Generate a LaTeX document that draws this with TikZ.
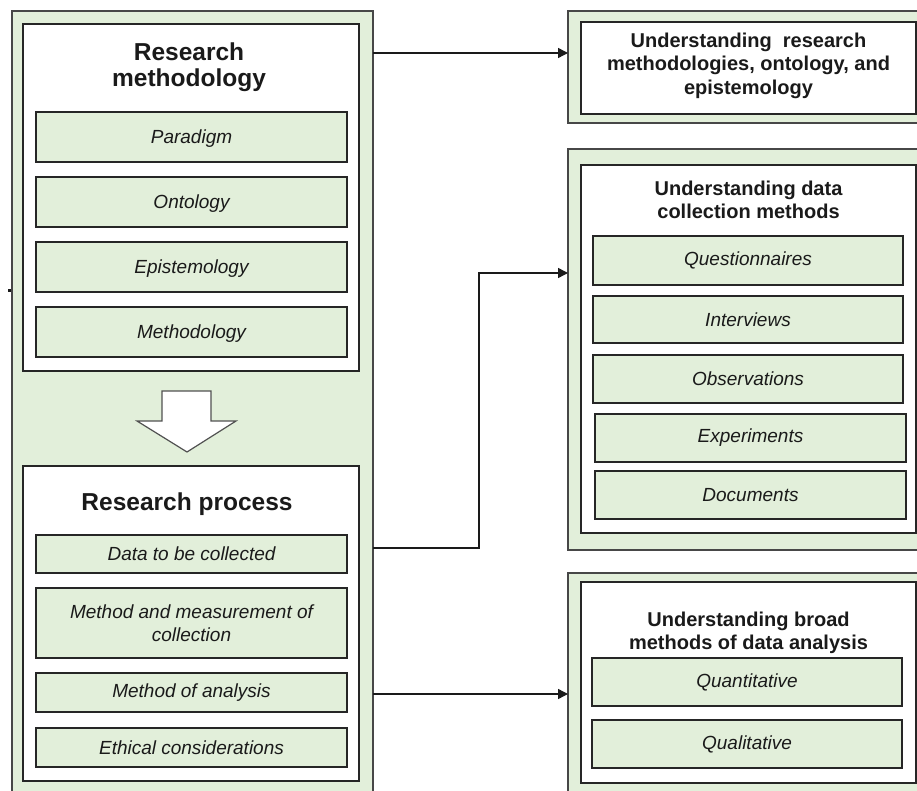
\documentclass[tikz,border=0pt]{standalone}
\usepackage{fontspec}
\setmainfont{Liberation Sans}
\usetikzlibrary{arrows.meta}
\definecolor{paleg}{HTML}{E2EFDA}
\definecolor{edge}{HTML}{262626}
\definecolor{ink}{HTML}{1A1A1A}

\tikzset{
  greenbox/.style={draw=edge!85, line width=1.7pt, fill=paleg, inner sep=0pt, outer sep=0pt, anchor=north west},
  whitebox/.style={draw=edge, line width=1.7pt, fill=white, inner sep=0pt, outer sep=0pt, anchor=north west},
  item/.style={draw=edge, line width=1.5pt, fill=paleg, inner sep=0pt, outer sep=0pt, anchor=north west,
    align=center, text=ink, font=\fontsize{19}{23}\selectfont\itshape},
  lowtext/.style={text depth=0pt},
  bigtitle/.style={align=center, text=ink, inner sep=0pt, font=\fontsize{24.5}{26}\selectfont\bfseries},
  sidetitle/.style={align=center, text=ink, inner sep=0pt, font=\fontsize{20}{23.5}\selectfont\bfseries},
  conn/.style={draw=ink, line width=1.4pt, -{Triangle[length=10pt,width=10pt]}},
}

\begin{document}
\begin{tikzpicture}[x=1pt, y=-1pt]
\useasboundingbox (0,0) rectangle (917,791);
\clip (0,0) rectangle (917,791);

% left column
\node[greenbox, minimum width=361pt, minimum height=800pt] (left) at (12,11) {};
\fill[ink] (8,289) rectangle (11,292);
\node[whitebox, minimum width=336pt, minimum height=347pt] (wm) at (23,24) {};
\node[bigtitle] (tm) at (189,67) {Research\\methodology};
\node[item, lowtext, minimum width=311pt, minimum height=50pt] (p1) at (36,112) {Paradigm};
\node[item, lowtext, minimum width=311pt, minimum height=50pt] (p2) at (36,177) {Ontology};
\node[item, lowtext, minimum width=311pt, minimum height=50pt] (p3) at (36,242) {Epistemology};
\node[item, lowtext, minimum width=311pt, minimum height=50pt] (p4) at (36,307) {Methodology};

% block arrow between the two stages
\draw[draw=edge!80, line width=1.2pt, fill=white]
  (162,391) -- (211,391) -- (211,421) -- (236,421) -- (187,452) -- (137,421) -- (162,421) -- cycle;

\node[whitebox, minimum width=336pt, minimum height=315pt] (wp) at (23,466) {};
\node[bigtitle] (tp) at (187,504) {Research process};
\node[item, minimum width=311pt, minimum height=38pt] (q1) at (36,535) {Data to be collected};
\node[item, minimum width=311pt, minimum height=70pt] (q2) at (36,588) {Method and measurement of\\collection};
\node[item, minimum width=311pt, minimum height=39pt] (q3) at (36,673) {Method of analysis};
\node[item, minimum width=311pt, minimum height=39pt] (q4) at (36,728) {Ethical considerations};

% right column, first panel
\node[greenbox, minimum width=362pt, minimum height=112pt] (r1) at (568,11) {};
\node[whitebox, minimum width=335pt, minimum height=92pt] (r1w) at (581,22) {};
\node[sidetitle] (t1) at (748.5,65.5) {Understanding\ \ research\\methodologies, ontology, and\\epistemology};

% right column, second panel
\node[greenbox, minimum width=362pt, minimum height=401pt] (r2) at (568,149) {};
\node[whitebox, minimum width=335pt, minimum height=368pt] (r2w) at (581,165) {};
\node[sidetitle] (t2) at (748.5,200) {Understanding data\\collection methods};
\node[item, minimum width=310pt, minimum height=49pt] (d1) at (593,236) {Questionnaires};
\node[item, minimum width=310pt, minimum height=47pt] (d2) at (593,296) {Interviews};
\node[item, minimum width=310pt, minimum height=48pt] (d3) at (593,355) {Observations};
\node[item, minimum width=311pt, minimum height=48pt] (d4) at (595,414) {Experiments};
\node[item, minimum width=311pt, minimum height=48pt] (d5) at (595,471) {Documents};

% right column, third panel
\node[greenbox, minimum width=362pt, minimum height=240pt] (r3) at (568,573) {};
\node[whitebox, minimum width=335pt, minimum height=201pt] (r3w) at (581,582) {};
\node[sidetitle] (t3) at (748.5,633) {Understanding broad\\methods of data analysis};
\node[item, minimum width=310pt, minimum height=48pt] (a1) at (592,658) {Quantitative};
\node[item, minimum width=310pt, minimum height=48pt] (a2) at (592,720) {Qualitative};

% connectors
\coordinate (s1) at (373,53);
\draw[conn] (s1) -- (s1 -| r1.west);
\coordinate (s2) at (373,548);
\coordinate (bend) at (479,273);
\draw[conn] (s2) -| (bend) -- (bend -| r2.west);
\coordinate (s3) at (373,694);
\draw[conn] (s3) -- (s3 -| r3.west);
\end{tikzpicture}
\end{document}
